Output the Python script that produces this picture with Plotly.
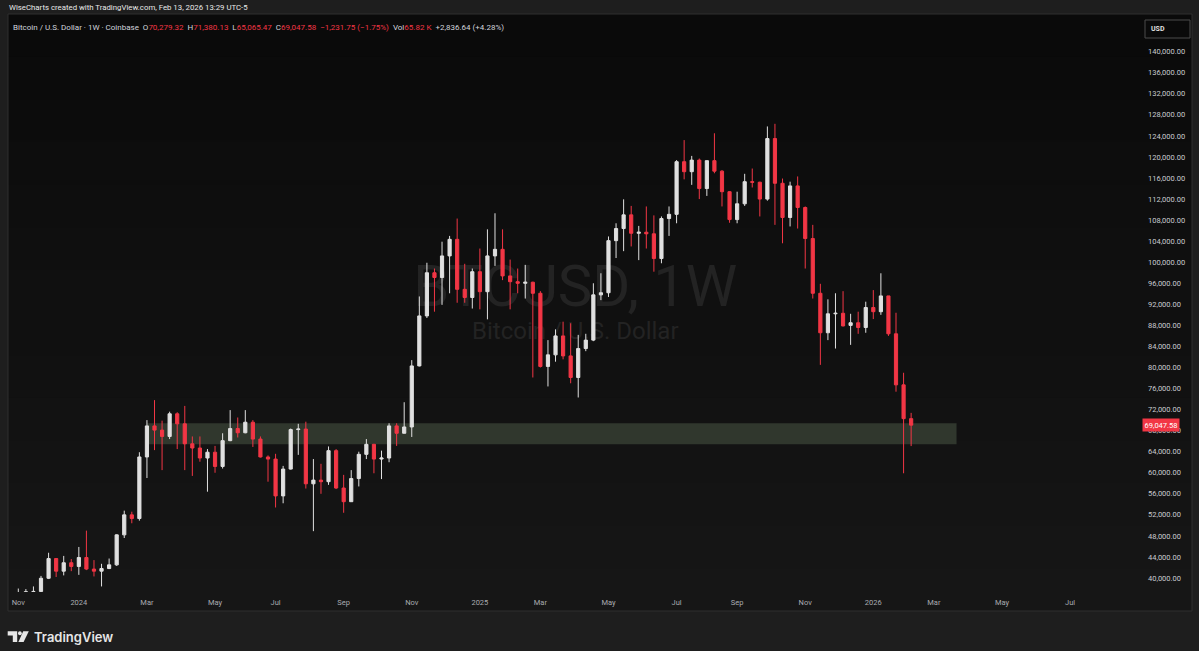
import pandas as pd
import plotly.graph_objects as go

# ---------------- data (weekly candles, BTC/USD Coinbase) ----------------
week_start = "2023-10-30"
opens = [34500, 35000, 37100, 37400, 37450, 39950, 43700, 41300, 42900,
         42200, 43900, 41700, 41300, 41800, 42500, 48200, 52000, 51300, 63000,
         68900, 68100, 66900, 71200, 69300, 65500, 64700, 62800, 63900, 61200,
         66100, 68400, 67600, 69600, 66400, 63000, 62600, 55600, 60700, 68200,
         68300, 57900, 58600, 58300, 64200, 57100, 54500, 58900, 63500, 65400,
         62600, 62800, 68900, 67500, 68700, 80300, 89800, 98000, 97100, 101200,
         104350, 94850, 93300,
         98200, 94400, 101200, 102450, 97400, 96300, 96000, 96200, 94100, 80200,
         82400, 86000, 82200, 78100, 83600, 85200, 93800, 94200, 104100, 106400,
         109000, 105500, 105700, 105400, 100700, 108300, 109100, 119100, 117200,
         119400, 114000, 119300, 117300, 113400, 108100, 111100, 115300, 115200,
         112000, 123500, 115000, 108500, 114500, 110400, 104500, 94100, 86600,
         90200, 90300, 88000, 88500, 87600,
         91400, 90600, 93600, 86400, 76700, 70279.32]
highs = [35900, 38000, 37900, 38400, 40400, 44800, 43800, 44200, 43600,
         45900, 49000, 43400, 42700, 43700, 48300, 52800, 52600, 63900, 70000,
         73800, 69900, 71600, 71500, 72700, 66900, 66900, 64500, 65100, 67500,
         71900, 70500, 71900, 70000, 66900, 63300, 63600, 61300, 68400, 69300,
         69700, 62600, 61700, 65000, 64500, 59600, 60500, 64000, 66400, 65500,
         64200, 69400, 69400, 73400, 81400, 93500, 99900, 98800, 103900, 105000,
         108300, 99700, 98800,
         102600, 106250, 109300, 106250, 100500, 98800, 99500, 96300, 94500, 85200,
         87250, 88700, 88400, 86200, 86400, 96000, 97900, 104900, 107400, 111950,
         110700, 106900, 110600, 108900, 108700, 110600, 119400, 123200, 120200,
         119700, 119300, 124500, 117500, 113500, 113400, 116800, 117800, 115300,
         125800, 126300, 115900, 115300, 116300, 110600, 107100, 95900, 92950,
         94100, 94500, 90200, 90600, 92500,
         94700, 97900, 93600, 90400, 79000, 71380.13]
lows = [34100, 34500, 34800, 35600, 37000, 39800, 40200, 40500, 41300,
        40600, 41500, 40300, 38400, 41700, 42300, 47600, 50400, 50900, 59000,
        64300, 60500, 66400, 64500, 60500, 59400, 62100, 56400, 60000, 60800,
        66000, 66700, 67500, 64900, 62900, 58300, 53400, 54200, 60600, 63400,
        57000, 48900, 56000, 57700, 56900, 52400, 54500, 57400, 62600, 59900,
        58800, 62000, 65100, 67500, 66800, 80200, 89400, 90600, 91900, 94100,
        92300, 92300, 91200,
        91050, 89150, 99300, 96600, 91050, 94100, 93100, 78100, 80000, 76400,
        81100, 81550, 77000, 74300, 83100, 85000, 92800, 93400, 100800, 102100,
        103000, 100400, 102600, 98200, 99800, 105000, 107400, 115750, 114700,
        112000, 112600, 116900, 110600, 107500, 107400, 110700, 114200, 108700,
        111700, 107100, 103600, 106800, 106400, 98800, 93100, 80500, 85200,
        83600, 87800, 84300, 86400, 86600,
        89200, 90000, 86000, 75400, 59900, 65065.47]
closes = [35000, 37100, 37400, 37450, 39950, 43700, 41300, 42900, 42200,
          43900, 41700, 41300, 41800, 42500, 48200, 52000, 51300, 63000, 68900,
          68100, 66900, 71200, 69300, 65500, 64700, 62800, 63900, 61200, 66100,
          68400, 67600, 69600, 66400, 63000, 62600, 55600, 60700, 68200, 68300,
          57900, 58600, 58300, 64200, 57100, 54500, 58900, 63500, 65400, 62600,
          62800, 68900, 67500, 68700, 80300, 89800, 98000, 97100, 101200, 104350,
          94850, 93300, 98200,
          94400, 101200, 102450, 97400, 96300, 96000, 96200, 94100, 80200, 82400,
          86000, 82200, 78100, 83600, 85200, 93800, 94200, 104100, 106400, 109000,
          105500, 105700, 105400, 100700, 108300, 109100, 119100, 117200, 119400,
          114000, 119300, 117300, 113400, 108100, 111100, 115300, 115200, 112000,
          123500, 115000, 108500, 114500, 110400, 104500, 94100, 86600, 90200,
          90300, 87900, 88500, 87600, 91400,
          90600, 93600, 86400, 76700, 70279.33, 69047.58]
dates = pd.date_range(week_start, periods=len(opens), freq="7D")

# support / resistance zone
zone_start, zone_end = "2024-03-04", "2026-03-23"
zone_low, zone_high = 65400, 69400

# axes
y_ticks = list(range(40000, 140001, 4000))
x_tick_dates = ["2023-11-06", "2024-01-01", "2024-03-04", "2024-05-06", "2024-07-01",
                "2024-09-02", "2024-11-04", "2025-01-06", "2025-03-03", "2025-05-05",
                "2025-07-07", "2025-09-01", "2025-11-03", "2026-01-05", "2026-03-02",
                "2026-05-04", "2026-07-06"]
x_tick_text = ["Nov", "2024", "Mar", "May", "Jul", "Sep", "Nov", "2025", "Mar",
               "May", "Jul", "Sep", "Nov", "2026", "Mar", "May", "Jul"]
x_range = ["2023-10-27 11:00", "2026-09-06 21:00"]
y_range = [37343, 146973]

header = "WiseCharts created with TradingView.com, Feb 13, 2026 13:29 UTC-5"
symbol_desc = "Bitcoin / U.S. Dollar · 1W · Coinbase"
volume_text = "65.82 K"
extra_change = "+2,836.64 (+4.28%)"
wm_main, wm_sub = "BTCUSD, 1W", "Bitcoin / U.S. Dollar"

# ---------------- styling ----------------
RED = "#f23645"
WHITE = "#e0e0e0"
TXT = "#d1d4dc"
FONT = "Roboto"
W, H = 1199, 651
L, R, T, B = 8, 1138, 15, 592


def px(x):
    return (x - L) / (R - L)


def py(y):
    return (B - y) / (B - T)


fig = go.Figure()

# watermark on the base (underlying) axes so candles are drawn over it
fig.add_trace(go.Scatter(
    x=[0.502, 0.502], y=[py(291), py(333)], mode="text",
    text=[wm_main, wm_sub],
    textfont=dict(family=FONT, size=[58, 24], color="#232323"),
    hoverinfo="skip", showlegend=False, xaxis="x", yaxis="y"))

fig.add_trace(go.Candlestick(
    x=dates, open=opens, high=highs, low=lows, close=closes,
    increasing=dict(line=dict(color=WHITE, width=1), fillcolor=WHITE),
    decreasing=dict(line=dict(color=RED, width=1), fillcolor=RED),
    whiskerwidth=0, showlegend=False, xaxis="x2", yaxis="y2"))

shapes = []
# gradient panel background (stacked bands, each reaching the bottom -> no seams)
n = 14
top_y, bot_y = 14, 611
for i in range(n):
    g = int(round(10 + (22 - 10) * i / (n - 1)))
    y0 = top_y + (bot_y - top_y) * i / n
    shapes.append(dict(type="rect", xref="paper", yref="paper", layer="below",
                       x0=px(8), x1=px(1192), y0=py(bot_y), y1=py(y0),
                       fillcolor=f"rgb({g},{g},{g})", line=dict(width=0)))
shapes.append(dict(type="rect", xref="paper", yref="paper", layer="below",
                   x0=px(8), x1=px(1192), y0=py(611), y1=py(14),
                   fillcolor="rgba(0,0,0,0)", line=dict(color="#2e2e2e", width=1)))
# zone
shapes.append(dict(type="rect", xref="x2", yref="y2", layer="below",
                   x0=zone_start, x1=zone_end, y0=zone_low, y1=zone_high,
                   fillcolor="rgba(130,155,120,0.27)", line=dict(width=0)))
# "USD" box
shapes.append(dict(type="rect", xref="paper", yref="paper", layer="above",
                   x0=px(1145), x1=px(1190), y0=py(38), y1=py(20),
                   fillcolor="rgba(0,0,0,0)", line=dict(color="#4a4a4a", width=1)))
# TradingView logo icon
shapes.append(dict(type="path", xref="paper", yref="paper", layer="above",
                   path=(f"M {px(7.7)} {py(631.3)} L {px(17.2)} {py(631.3)} L {px(17.2)} {py(642)} "
                         f"L {px(12.8)} {py(642)} L {px(12.8)} {py(635.6)} L {px(7.7)} {py(635.6)} Z"),
                   fillcolor="#e6e6e6", line=dict(width=0)))
shapes.append(dict(type="circle", xref="paper", yref="paper", layer="above",
                   x0=px(18.0), x1=px(21.8), y0=py(635.3), y1=py(631.3),
                   fillcolor="#e6e6e6", line=dict(width=0)))
shapes.append(dict(type="path", xref="paper", yref="paper", layer="above",
                   path=(f"M {px(23.2)} {py(631.3)} L {px(28.8)} {py(631.3)} L {px(23.6)} {py(642)} "
                         f"L {px(18.4)} {py(642)} Z"),
                   fillcolor="#e6e6e6", line=dict(width=0)))

last_o, last_h, last_l, last_c = opens[-1], highs[-1], lows[-1], closes[-1]
prev_c = closes[-2]
chg = last_c - prev_c
chg_pct = chg / prev_c * 100


def red(s):
    return f"<span style='color:{RED}'>{s}</span>"


def sgn(v, fmt):
    return ("+" if v >= 0 else "\u2212") + format(abs(v), fmt)


legend = (f"{symbol_desc}  O{red(format(last_o, ',.2f'))}  H{red(format(last_h, ',.2f'))}  "
          f"L{red(format(last_l, ',.2f'))}  C{red(format(last_c, ',.2f'))}  "
          f"{red(sgn(chg, ',.2f') + ' (' + sgn(chg_pct, '.2f') + '%)')}  "
          f"Vol{red(volume_text)}  {extra_change}")

annotations = [
    dict(text=header, xref="paper", yref="paper", x=px(7), y=py(7.5),
         xanchor="left", yanchor="middle", showarrow=False,
         font=dict(family=FONT, size=7.8, color="#e8e8e8")),
    dict(text=legend, xref="paper", yref="paper", x=px(11), y=py(27),
         xanchor="left", yanchor="middle", showarrow=False,
         font=dict(family=FONT, size=8, color=TXT)),
    dict(text=format(last_c, ",.2f"), xref="paper", yref="y2", x=px(1142), y=last_c,
         xanchor="left", yanchor="middle", showarrow=False, bgcolor=RED, borderpad=1.5,
         font=dict(family=FONT, size=7.5, color="#ffffff")),
    dict(text="<b>USD</b>", xref="paper", yref="paper", x=px(1149), y=py(29),
         xanchor="left", yanchor="middle", showarrow=False,
         font=dict(family=FONT, size=7, color="#e0e0e0")),
    dict(text="TradingView", xref="paper", yref="paper", x=px(31.5), y=py(636.5),
         xanchor="left", yanchor="middle", showarrow=False,
         font=dict(family="Inter", size=13, color="#e6e6e6", weight=600)),
]

fig.update_layout(
    width=W, height=H,
    margin=dict(l=L, r=W - R, t=T, b=H - B, pad=0),
    paper_bgcolor="#1e1e1e", plot_bgcolor="rgba(0,0,0,0)",
    boxgap=0.4,
    showlegend=False,
    shapes=shapes, annotations=annotations,
    xaxis=dict(range=[0, 1], visible=False, fixedrange=True),
    yaxis=dict(range=[0, 1], visible=False, fixedrange=True),
    xaxis2=dict(overlaying="x", anchor="y2", side="bottom", type="date",
                range=x_range, showgrid=False, zeroline=False, showline=False,
                tickvals=x_tick_dates, ticktext=x_tick_text, ticks="",
                ticklabelstandoff=4,
                tickfont=dict(family=FONT, size=7.5, color="#a9abb0"),
                rangeslider=dict(visible=False)),
    yaxis2=dict(overlaying="y", anchor="x2", side="right", range=y_range,
                showgrid=False, zeroline=False, showline=False,
                tickvals=y_ticks, tickformat=",.2f", ticks="",
                ticklabelstandoff=9,
                tickfont=dict(family=FONT, size=7.5, color="#c9cbd0")),
    font=dict(family=FONT),
)

fig.write_html("out.html", config={"displayModeBar": False},
               post_script="document.body.style.margin='0';")
